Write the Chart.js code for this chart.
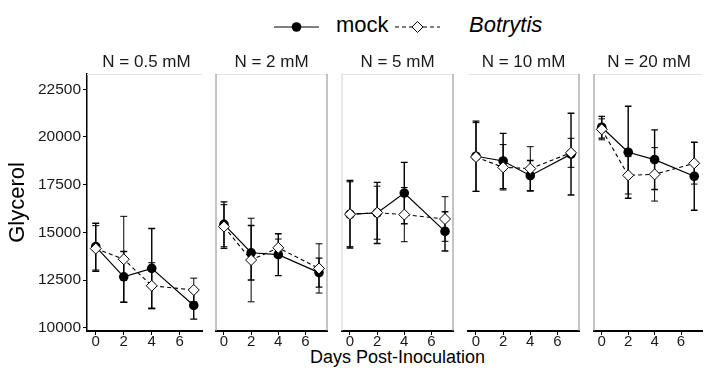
<!DOCTYPE html>
<html>
<head>
<meta charset="utf-8">
<script src="https://cdn.jsdelivr.net/npm/chart.js@4.4.0/dist/chart.umd.min.js"></script>
<style>
  body { margin: 0; background: #fff; font-family: "Liberation Sans", Arial, sans-serif; }
  #wrap { position: relative; width: 709px; height: 370px; overflow: hidden; }
  #wrap canvas { position: absolute; top: 0; }
  .strip { position: absolute; top: 53px; width: 119px; font-size: 17px; line-height: 17px; text-align: center; color: #1a1a1a; white-space: nowrap; }
  .legtxt { position: absolute; top: 14px; font-size: 22px; line-height: 22px; color: #000; }
  #xtitle { position: absolute; left: 87px; width: 621px; top: 348px; font-size: 18px; line-height: 18px; text-align: center; color: #000; }
  #legsym { position: absolute; left: 0; top: 0; }
</style>
</head>
<body>
<div id="wrap">
  <svg id="legsym" width="709" height="45">
    <line x1="274" y1="27" x2="319" y2="27" stroke="#000" stroke-width="1.2"/>
    <circle cx="296.5" cy="27" r="4.8" fill="#000"/>
    <line x1="395" y1="27" x2="440" y2="27" stroke="#000" stroke-width="1.1" stroke-dasharray="4 3"/>
    <polygon points="417.5,21.5 423,27 417.5,32.5 412,27" fill="#fff" stroke="#000" stroke-width="1"/>
  </svg>
  <div class="legtxt" style="left:336px;">mock</div>
  <div class="legtxt" style="left:469px; font-style:italic;">Botrytis</div>
  <div id="xtitle">Days Post-Inoculation</div>
</div>
<script>
// days post-inoculation sampled
const days = [0, 2, 4, 7];
const nLevels = ['N = 0.5 mM', 'N = 2 mM', 'N = 5 mM', 'N = 10 mM', 'N = 20 mM'];
const xTicks = [0, 2, 4, 6];
const yTicks = [10000, 12500, 15000, 17500, 20000, 22500];

// glycerol means and error (+/-) per N level
const mockMean = [
    [14250, 12670, 13110, 11170],
    [15420, 13930, 13830, 12890],
    [15950, 16020, 17060, 15050],
    [18990, 18740, 17970, 19100],
    [20510, 19200, 18810, 17940]
];
const mockErr = [
    [1230, 1330, 2090, 720],
    [1180, 1430, 1100, 760],
    [1770, 1600, 1610, 1030],
    [1840, 1450, 800, 2140],
    [570, 2410, 1560, 1780]
];
const botMean = [
    [14150, 13590, 12200, 11980],
    [15300, 13550, 14190, 13110],
    [15950, 16030, 15930, 15700],
    [18950, 18410, 18340, 19170],
    [20400, 17990, 18040, 18620]
];
const botErr = [
    [1200, 2250, 1210, 620],
    [1150, 2190, 460, 1290],
    [1700, 1390, 1420, 1170],
    [1800, 1190, 1150, 760],
    [550, 980, 1400, 1090]
];

// facet layout
const panelLeft = [87, 212, 338, 464, 590];
const panelWidth = [119, 119, 119, 119, 118];
const edgeColors = [
    [null, null],
    ['#8a8a8a', '#8a8a8a'],
    ['#cfcfcf', '#8a8a8a'],
    [null, '#8a8a8a'],
    ['#8a8a8a', null]
];
const fontFamily = '"Liberation Sans", Arial, sans-serif';

const errorBars = {
    id: 'errorBars',
    beforeDatasetsDraw(chart) {
        const {ctx, scales: {x, y}} = chart;
        ctx.save();
        chart.data.datasets.forEach(ds => {
            ctx.strokeStyle = '#000';
            ctx.lineWidth = ds.errWidth;
            ds.data.forEach((p, k) => {
                const e = ds.err[k];
                const px = x.getPixelForValue(p.x);
                const x0 = x.getPixelForValue(p.x - 0.25);
                const x1 = x.getPixelForValue(p.x + 0.25);
                const yt = y.getPixelForValue(p.y + e);
                const yb = y.getPixelForValue(p.y - e);
                ctx.beginPath();
                ctx.moveTo(px, yt); ctx.lineTo(px, yb);
                ctx.moveTo(x0, yt); ctx.lineTo(x1, yt);
                ctx.moveTo(x0, yb); ctx.lineTo(x1, yb);
                ctx.stroke();
            });
        });
        ctx.restore();
    }
};

const panelFrame = {
    id: 'panelFrame',
    afterDraw(chart, args, opts) {
        const {ctx, chartArea: a} = chart;
        ctx.save();
        ctx.lineWidth = 1;
        ctx.strokeStyle = '#e6e6e6';
        ctx.beginPath();
        ctx.moveTo(a.left, a.top + 0.5);
        ctx.lineTo(a.right, a.top + 0.5);
        ctx.stroke();
        const [lc, rc] = opts.edges;
        if (lc) {
            ctx.strokeStyle = lc;
            ctx.beginPath();
            ctx.moveTo(a.left + 0.5, a.top);
            ctx.lineTo(a.left + 0.5, a.bottom);
            ctx.stroke();
        }
        if (rc) {
            ctx.strokeStyle = rc;
            ctx.beginPath();
            ctx.moveTo(a.right - 0.5, a.top);
            ctx.lineTo(a.right - 0.5, a.bottom);
            ctx.stroke();
        }
        ctx.restore();
    }
};

const wrap = document.getElementById('wrap');

nLevels.forEach((label, i) => {
    const first = i === 0;
    const padL = 3;
    const padR = i === 4 ? 1 : 3;
    const yWidth = first ? 84 : 0;
    const left = panelLeft[i] - padL - yWidth;
    const width = padL + yWidth + panelWidth[i] + padR;

    const canvas = document.createElement('canvas');
    canvas.width = width;
    canvas.height = 370;
    canvas.style.left = left + 'px';
    wrap.appendChild(canvas);

    const strip = document.createElement('div');
    strip.className = 'strip';
    strip.style.left = panelLeft[i] + 'px';
    strip.style.width = panelWidth[i] + 'px';
    strip.textContent = label;
    wrap.appendChild(strip);

    new Chart(canvas.getContext('2d'), {
        type: 'line',
        data: {
            datasets: [{
                label: 'Botrytis',
                data: days.map((d, k) => ({x: d, y: botMean[i][k]})),
                err: botErr[i],
                errWidth: 1,
                borderColor: '#000',
                borderWidth: 1.1,
                borderDash: [4, 3],
                pointStyle: 'rectRot',
                pointRadius: 5.5,
                pointBackgroundColor: '#fff',
                pointBorderColor: '#000',
                pointBorderWidth: 1,
                tension: 0
            }, {
                label: 'mock',
                data: days.map((d, k) => ({x: d, y: mockMean[i][k]})),
                err: mockErr[i],
                errWidth: 1.4,
                borderColor: '#000',
                borderWidth: 1.2,
                pointStyle: 'circle',
                pointRadius: 4.8,
                pointBackgroundColor: '#000',
                pointBorderColor: '#000',
                pointBorderWidth: 0,
                tension: 0
            }]
        },
        options: {
            responsive: false,
            animation: false,
            layout: { padding: { left: padL, right: padR, top: 74, bottom: 0 } },
            plugins: {
                legend: { display: false },
                tooltip: { enabled: false },
                panelFrame: { edges: edgeColors[i] }
            },
            scales: {
                x: {
                    type: 'linear',
                    min: -0.625,
                    max: 7.625,
                    afterBuildTicks: s => { s.ticks = xTicks.map(v => ({value: v})); },
                    afterFit: s => { s.height = 39; },
                    grid: { drawOnChartArea: false, drawTicks: true, tickLength: 4, color: '#000' },
                    border: { display: true, color: '#000', width: 2 },
                    ticks: { font: { size: 15, family: fontFamily }, color: '#1a1a1a', padding: -2, maxRotation: 0 }
                },
                y: {
                    display: first,
                    min: 9830,
                    max: 23300,
                    afterBuildTicks: s => { s.ticks = yTicks.map(v => ({value: v})); },
                    afterFit: s => { s.width = yWidth; },
                    grid: { drawOnChartArea: false, drawTicks: true, tickLength: 4, color: '#000' },
                    border: { display: true, color: '#000', width: 1.5 },
                    ticks: {
                        font: { size: 15.5, family: fontFamily },
                        color: '#1a1a1a',
                        padding: 2,
                        callback: v => String(v)
                    },
                    title: {
                        display: true,
                        text: 'Glycerol',
                        color: '#000',
                        font: { size: 22, family: fontFamily },
                        padding: { top: 2, bottom: 0 }
                    }
                }
            }
        },
        plugins: [errorBars, panelFrame]
    });
});
</script>
</body>
</html>
